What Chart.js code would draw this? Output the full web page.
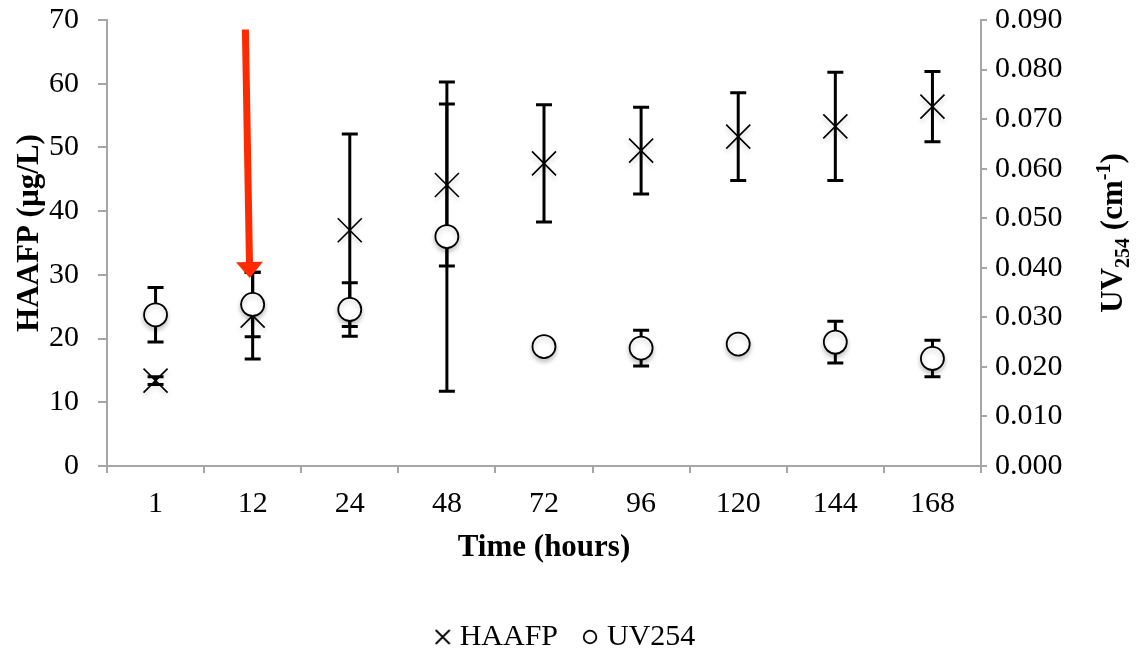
<!DOCTYPE html>
<html>
<head>
<meta charset="utf-8">
<script src="https://cdn.jsdelivr.net/npm/chart.js@4/dist/chart.umd.min.js"></script>
<style>
  html, body { margin: 0; padding: 0; background: #fff; overflow: hidden; }
  #wrap { width: 1136px; height: 662px; }
</style>
</head>
<body>
<div id="wrap"><canvas id="chart"></canvas></div>
<script>
// sampling times (hours)
const hours = ['1', '12', '24', '48', '72', '96', '120', '144', '168'];
// HAAFP in ug/L with standard deviation
const haafp    = [13.4, 23.6, 37.0, 44.1, 47.5, 49.5, 51.7, 53.3, 56.4];
const haafpErr = [0.6, 6.8, 15.1, 12.7, 9.2, 6.8, 6.9, 8.5, 5.5];
// UV254 absorbance in cm-1 with standard deviation
const uv254    = [0.0305, 0.0326, 0.0316, 0.0463, 0.0241, 0.0238, 0.0246, 0.0250, 0.0217];
const uv254Err = [0.0055, 0.0065, 0.0054, 0.0312, 0.0015, 0.0036, 0.0015, 0.0042, 0.0037];
// red marker arrow: [category index, HAAFP value]
const arrowFrom = [0.925, 68.5];
const arrowTo   = [0.97, 29.5];

const serif = "'Liberation Serif', 'Times New Roman', serif";
const axisGrey = '#a6a6a6';

// small icons for the legend
function legendIcon(kind) {
    const c = document.createElement('canvas');
    c.width = 16; c.height = 16;
    const g = c.getContext('2d');
    g.strokeStyle = '#000';
    g.lineWidth = 1.8;
    g.beginPath();
    if (kind === 'cross') {
        g.moveTo(1, 1); g.lineTo(15, 15);
        g.moveTo(15, 1); g.lineTo(1, 15);
    } else {
        g.arc(8, 8, 6.3, 0, Math.PI * 2);
    }
    g.stroke();
    return c;
}
const icons = [legendIcon('cross'), legendIcon('circle')];

const errorBars = {
    id: 'errorBars',
    beforeDatasetsDraw(chart) {
        const ctx = chart.ctx;
        chart.data.datasets.forEach((ds, i) => {
            const meta = chart.getDatasetMeta(i);
            const ys = chart.scales[ds.yAxisID];
            ctx.save();
            ctx.strokeStyle = '#000';
            ctx.lineWidth = 3;
            meta.data.forEach((pt, j) => {
                const hi = ys.getPixelForValue(ds.data[j] + ds.errors[j]);
                const lo = ys.getPixelForValue(ds.data[j] - ds.errors[j]);
                ctx.beginPath();
                ctx.moveTo(pt.x, hi); ctx.lineTo(pt.x, lo);
                ctx.moveTo(pt.x - 8, hi); ctx.lineTo(pt.x + 8, hi);
                ctx.moveTo(pt.x - 8, lo); ctx.lineTo(pt.x + 8, lo);
                ctx.stroke();
            });
            ctx.restore();
        });
    }
};

// soft drop shadow under the markers
const markerShadow = {
    id: 'markerShadow',
    beforeDatasetDraw(chart) {
        const ctx = chart.ctx;
        ctx.save();
        ctx.shadowColor = 'rgba(0,0,0,0.22)';
        ctx.shadowBlur = 5;
        ctx.shadowOffsetY = 3;
    },
    afterDatasetDraw(chart) {
        chart.ctx.restore();
    }
};

const redArrow = {
    id: 'redArrow',
    afterDatasetsDraw(chart) {
        const ctx = chart.ctx;
        const xs = chart.scales.x, ys = chart.scales.y;
        const x0 = xs.getPixelForValue(arrowFrom[0]), y0 = ys.getPixelForValue(arrowFrom[1]);
        const x1 = xs.getPixelForValue(arrowTo[0]), y1 = ys.getPixelForValue(arrowTo[1]);
        const len = Math.hypot(x1 - x0, y1 - y0);
        const ux = (x1 - x0) / len, uy = (y1 - y0) / len;
        const headLen = 16, headHalf = 13.5;
        const bx = x1 - ux * headLen, by = y1 - uy * headLen;
        ctx.save();
        ctx.strokeStyle = '#ff2a00';
        ctx.fillStyle = '#ff2a00';
        ctx.lineWidth = 7;
        ctx.beginPath();
        ctx.moveTo(x0, y0);
        ctx.lineTo(bx + ux, by + uy);
        ctx.stroke();
        ctx.beginPath();
        ctx.moveTo(x1, y1);
        ctx.lineTo(bx - uy * headHalf, by + ux * headHalf);
        ctx.lineTo(bx + uy * headHalf, by - ux * headHalf);
        ctx.closePath();
        ctx.fill();
        ctx.restore();
    }
};

// rotated y-axis titles, the right one with sub/superscripts
const axisTitles = {
    id: 'axisTitles',
    afterDraw(chart) {
        const ctx = chart.ctx;
        const mid = (chart.chartArea.top + chart.chartArea.bottom) / 2 - 10;
        ctx.save();
        ctx.fillStyle = '#000';
        ctx.textBaseline = 'alphabetic';

        ctx.save();
        ctx.translate(38, mid);
        ctx.rotate(-Math.PI / 2);
        ctx.font = 'bold 31px ' + serif;
        ctx.textAlign = 'center';
        ctx.fillText('HAAFP (µg/L)', 0, 0);
        ctx.restore();

        const parts = [
            { t: 'UV', f: 'bold 31px ', dy: 0 },
            { t: '254', f: 'bold 20px ', dy: 7 },
            { t: ' (cm', f: 'bold 31px ', dy: 0 },
            { t: '-1', f: 'bold 20px ', dy: -12 },
            { t: ')', f: 'bold 31px ', dy: 0 }
        ];
        let total = 0;
        parts.forEach(p => { ctx.font = p.f + serif; p.w = ctx.measureText(p.t).width; total += p.w; });
        ctx.save();
        ctx.translate(1122, mid);
        ctx.rotate(-Math.PI / 2);
        ctx.textAlign = 'left';
        let x = -total / 2;
        parts.forEach(p => {
            ctx.font = p.f + serif;
            ctx.fillText(p.t, x, p.dy);
            x += p.w;
        });
        ctx.restore();
        ctx.restore();
    }
};

const ctx = document.getElementById('chart').getContext('2d');
new Chart(ctx, {
    type: 'line',
    data: {
        labels: hours,
        datasets: [{
            label: 'HAAFP',
            data: haafp,
            errors: haafpErr,
            yAxisID: 'y',
            showLine: false,
            pointStyle: 'crossRot',
            pointRadius: 17,
            pointBorderWidth: 1.6,
            borderColor: '#000',
            backgroundColor: '#000',
            order: 2
        }, {
            label: 'UV254',
            data: uv254,
            errors: uv254Err,
            yAxisID: 'y1',
            showLine: false,
            pointStyle: 'circle',
            pointRadius: 11.5,
            pointBorderWidth: 1.8,
            borderColor: '#000',
            backgroundColor: '#fff',
            order: 1
        }]
    },
    plugins: [errorBars, markerShadow, redArrow, axisTitles],
    options: {
        responsive: true,
        maintainAspectRatio: false,
        animation: false,
        layout: { padding: { top: 20, left: 0, right: 0, bottom: 0 } },
        scales: {
            x: {
                offset: true,
                afterFit(s) { s.height = 126; },
                grid: { offset: true, drawOnChartArea: false, tickLength: 7, color: axisGrey, lineWidth: 2 },
                border: { color: axisGrey, width: 2 },
                ticks: { color: '#000', padding: 13, font: { family: serif, size: 30 } },
                title: {
                    display: true,
                    text: 'Time (hours)',
                    color: '#000',
                    font: { family: serif, size: 31, weight: 'bold' },
                    padding: { top: 0, bottom: 25 }
                }
            },
            y: {
                position: 'left',
                min: 0,
                max: 70,
                afterFit(s) { s.width = 107; },
                grid: { drawOnChartArea: false, tickLength: 9, color: axisGrey, lineWidth: 2 },
                border: { color: axisGrey, width: 2 },
                ticks: { stepSize: 10, color: '#000', padding: 19, font: { family: serif, size: 30, lineHeight: 0.05 } }
            },
            y1: {
                position: 'right',
                min: 0,
                max: 0.09,
                afterFit(s) { s.width = 155; },
                grid: { drawOnChartArea: false, tickLength: 6, color: axisGrey, lineWidth: 2 },
                border: { color: axisGrey, width: 2 },
                ticks: {
                    stepSize: 0.01,
                    color: '#000',
                    padding: 8,
                    font: { family: serif, size: 30, lineHeight: 0.05 },
                    callback: v => v.toFixed(3)
                }
            }
        },
        plugins: {
            tooltip: { enabled: false },
            legend: {
                position: 'bottom',
                labels: {
                    usePointStyle: true,
                    boxWidth: 4,
                    boxHeight: 16,
                    padding: 30,
                    color: '#000',
                    font: { family: serif, size: 30 },
                    generateLabels: chart => chart.data.datasets.map((ds, i) => ({
                        text: ds.label,
                        pointStyle: icons[i],
                        fontColor: '#000',
                        fillStyle: 'transparent',
                        strokeStyle: 'transparent',
                        lineWidth: 0,
                        hidden: false,
                        datasetIndex: i
                    }))
                }
            }
        }
    }
});
</script>
</body>
</html>
